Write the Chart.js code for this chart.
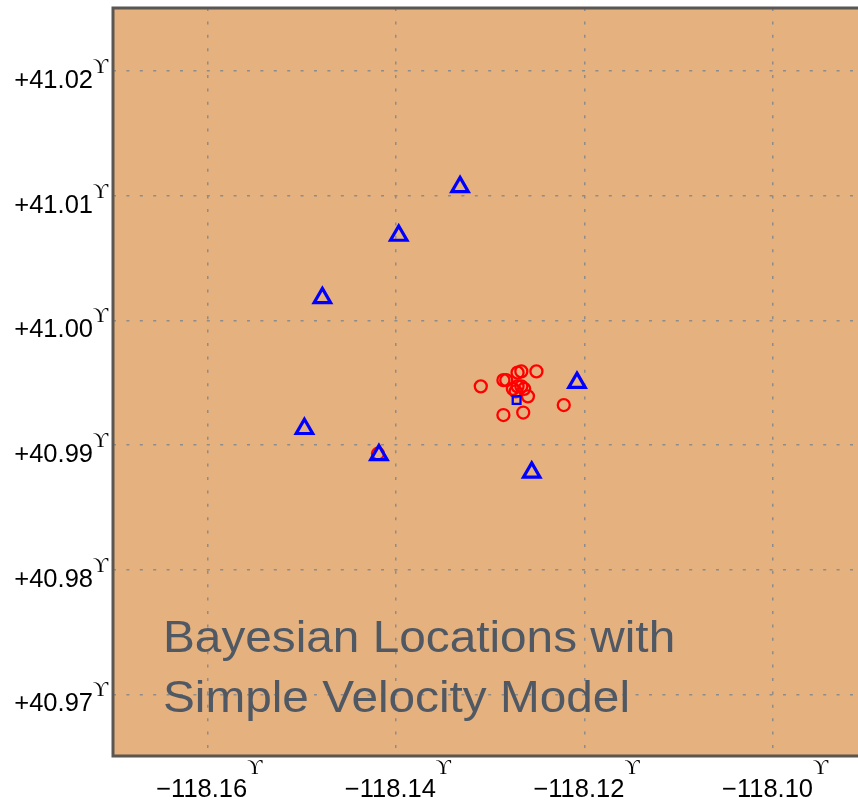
<!DOCTYPE html>
<html>
<head>
<meta charset="utf-8">
<script src="https://cdn.jsdelivr.net/npm/chart.js@4.4.1/dist/chart.umd.min.js"></script>
<style>
  html, body { margin: 0; padding: 0; background: #ffffff; overflow: hidden; }
  #wrap { position: relative; width: 858px; height: 803px; overflow: hidden; }
  #c { display: block; }
</style>
</head>
<body>
<div id="wrap"><canvas id="c"></canvas></div>
<script>
// stations (blue triangles)
const stationLon = [-118.1332, -118.1397, -118.1478, -118.1497, -118.1418, -118.1256, -118.1208];
const stationLat = [41.0107, 41.0068, 41.0018, 40.9913, 40.9892, 40.9878, 40.9950];

// bayesian event locations (red circles)
const eventLon = [-118.1310, -118.1286, -118.1283, -118.1271, -118.1267, -118.1251, -118.1276, -118.1271,
    -118.1267, -118.1264, -118.1260, -118.1273, -118.1286, -118.1265, -118.1222, -118.1419];
const eventLat = [40.9947, 40.9952, 40.9952, 40.9958, 40.9959, 40.9959, 40.9945, 40.9947,
    40.9947, 40.9945, 40.9939, 40.9943, 40.9924, 40.9926, 40.9932, 40.9893];

// reference location (blue square)
const refLon = [-118.1272];
const refLat = [40.9936];

const xTicks = [-118.16, -118.14, -118.12, -118.10];
const xTickLabels = ['\u2212118.16', '\u2212118.14', '\u2212118.12', '\u2212118.10'];
const yTicks = [41.02, 41.01, 41.00, 40.99, 40.98, 40.97];
const yTickLabels = ['+41.02', '+41.01', '+41.00', '+40.99', '+40.98', '+40.97'];
const degMark = '\u03D2';

const titleLines = ['Bayesian Locations with', 'Simple Velocity Model'];

const toPoints = (lon, lat) => lon.map((x, i) => ({ x: x, y: lat[i] }));

const labelFont = "25.5px 'Liberation Sans', Arial, sans-serif";
const supFont = "21px 'Liberation Serif', 'DejaVu Serif', serif";

const mapPlugin = {
    id: 'mapPlugin',
    beforeDraw: chart => {
        const { ctx, chartArea: a } = chart;
        ctx.save();
        ctx.fillStyle = '#e5b17f';
        ctx.fillRect(a.left, a.top, a.right - a.left, a.bottom - a.top);
        ctx.restore();
    },
    afterDraw: chart => {
        const { ctx, chartArea: a } = chart;
        const xs = chart.scales.x, ys = chart.scales.y;
        ctx.save();

        // frame
        ctx.strokeStyle = '#5a5652';
        ctx.lineWidth = 3;
        ctx.beginPath();
        ctx.moveTo(chart.width + 2, a.top);
        ctx.lineTo(a.left, a.top);
        ctx.lineTo(a.left, a.bottom);
        ctx.lineTo(chart.width + 2, a.bottom);
        ctx.stroke();

        // y labels
        ctx.fillStyle = '#000000';
        ctx.textBaseline = 'alphabetic';
        yTicks.forEach((v, i) => {
            const py = ys.getPixelForValue(v);
            ctx.font = labelFont;
            ctx.textAlign = 'right';
            ctx.fillText(yTickLabels[i], 93, py + 17);
            ctx.font = supFont;
            ctx.textAlign = 'left';
            ctx.fillText(degMark, 93, py + 2);
        });

        // x labels
        xTicks.forEach((v, i) => {
            const px = xs.getPixelForValue(v);
            ctx.font = labelFont;
            const w = ctx.measureText(xTickLabels[i]).width;
            ctx.font = supFont;
            const s = ctx.measureText(degMark).width;
            const start = px - (w + s) / 2 + 2;
            ctx.textAlign = 'left';
            ctx.font = labelFont;
            ctx.fillText(xTickLabels[i], start, 797);
            ctx.font = supFont;
            ctx.fillText(degMark, start + w, 774);
        });

        // caption
        ctx.fillStyle = '#505963';
        ctx.font = "44px 'Liberation Sans', Arial, sans-serif";
        ctx.textAlign = 'left';
        titleLines.forEach((t, i) => {
            ctx.save();
            ctx.translate(163, 652 + i * 60);
            ctx.scale(1.085, 1);
            ctx.fillText(t, 0, 0);
            ctx.restore();
        });

        ctx.restore();
    }
};

new Chart(document.getElementById('c').getContext('2d'), {
    type: 'scatter',
    data: {
        datasets: [{
            label: 'stations',
            data: toPoints(stationLon, stationLat),
            pointStyle: 'triangle',
            pointRadius: 9.5,
            borderWidth: 3.2,
            borderColor: '#0000ff',
            backgroundColor: 'rgba(0,0,0,0)',
            order: 0
        }, {
            label: 'reference',
            data: toPoints(refLon, refLat),
            pointStyle: 'rect',
            pointRadius: 5.5,
            borderWidth: 2.3,
            borderColor: '#0000ff',
            backgroundColor: 'rgba(0,0,0,0)',
            order: 1
        }, {
            label: 'events',
            data: toPoints(eventLon, eventLat),
            pointStyle: 'circle',
            pointRadius: 6,
            borderWidth: 2.3,
            borderColor: '#ff0000',
            backgroundColor: 'rgba(0,0,0,0)',
            order: 2
        }]
    },
    options: {
        responsive: true,
        maintainAspectRatio: false,
        animation: false,
        events: [],
        layout: { autoPadding: false, padding: { top: 8, right: 0, left: 0, bottom: 0 } },
        plugins: {
            legend: { display: false },
            title: { display: false },
            tooltip: { enabled: false }
        },
        scales: {
            x: {
                type: 'linear',
                min: -118.1700,
                max: -118.0910,
                afterBuildTicks: scale => { scale.ticks = xTicks.map(v => ({ value: v })); },
                afterFit: scale => { scale.height = 47; },
                ticks: { display: false },
                grid: { color: '#8c8c8c', lineWidth: 1.5, drawTicks: false },
                border: { display: false, dash: [3, 10.4] }
            },
            y: {
                type: 'linear',
                min: 40.96505,
                max: 41.02505,
                afterBuildTicks: scale => { scale.ticks = yTicks.map(v => ({ value: v })); },
                afterFit: scale => { scale.width = 113; },
                ticks: { display: false },
                grid: { color: '#8c8c8c', lineWidth: 1.5, drawTicks: false },
                border: { display: false, dash: [3, 10.4] }
            }
        }
    },
    plugins: [mapPlugin]
});
</script>
</body>
</html>
